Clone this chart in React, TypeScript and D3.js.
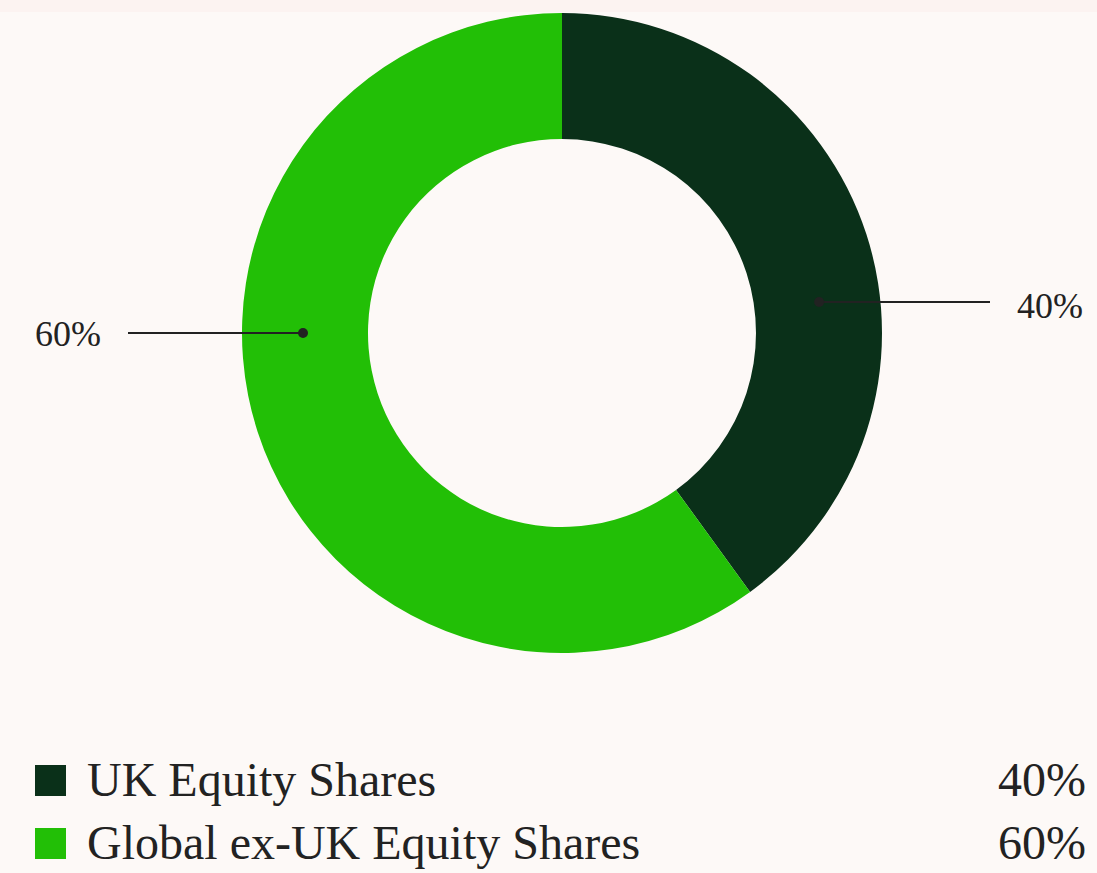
import React from "react";
import * as d3 from "d3";

const categories = ["UK Equity Shares", "Global ex-UK Equity Shares"];
const values = [40, 60];
const valueLabels = ["40%", "60%"];
const colors = ["#0a3019", "#22bf06"];

const W = 1097;
const H = 873;
const cx = 562;
const cy = 333;
const rOuter = 320;
const rInner = 194;
// vertical offset of callout line from centre, per slice
const calloutDy = [-31, 0];

export default function App() {
  const pie = d3.pie<number>().sort(null).value((d) => d);
  const arcs = pie(values);
  const arc = d3.arc<d3.PieArcDatum<number>>().innerRadius(rInner).outerRadius(rOuter);
  const rMid = (rInner + rOuter) / 2 + 2;

  return (
    <svg width={W} height={H} style={{ position: "absolute", left: 0, top: 0, display: "block" }}>
      <rect x={0} y={0} width={W} height={H} fill="#fdf9f7" />
      <rect x={0} y={0} width={W} height={12} fill="#fcf3f1" />
      <g transform={`translate(${cx},${cy})`}>
        {arcs.map((a, i) => (
          <path key={i} d={arc(a) || ""} fill={colors[i]} />
        ))}
        {arcs.map((a, i) => {
          const mid = (a.startAngle + a.endAngle) / 2;
          const side = Math.sin(mid) >= 0 ? 1 : -1;
          const dy = calloutDy[i];
          const dx = side * Math.sqrt(rMid * rMid - dy * dy);
          const x2 = side > 0 ? rOuter + 108 : -434;
          const tx = side > 0 ? 521 : -527;
          return (
            <g key={"c" + i}>
              <line x1={dx} y1={dy} x2={x2} y2={dy} stroke="#222" strokeWidth={2} />
              <circle cx={dx} cy={dy} r={5} fill="#222" />
              <text
                x={tx}
                y={dy}
                dy={side > 0 ? "0.45em" : "0.35em"}
                textAnchor={side > 0 ? "end" : "start"}
                fontFamily="'Liberation Serif', serif"
                fontSize={36}
                fill="#222"
              >
                {valueLabels[i]}
              </text>
            </g>
          );
        })}
      </g>
      {categories.map((c, i) => {
        const y = 765 + i * 63;
        return (
          <g key={"l" + i}>
            <rect x={35} y={y} width={31} height={31} fill={colors[i]} />
            <text x={87} y={y + 31} fontFamily="'Liberation Serif', serif" fontSize={48} fill="#222">
              {c}
            </text>
            <text x={1086} y={y + 31} textAnchor="end" fontFamily="'Liberation Serif', serif" fontSize={48} fill="#222">
              {valueLabels[i]}
            </text>
          </g>
        );
      })}
    </svg>
  );
}
